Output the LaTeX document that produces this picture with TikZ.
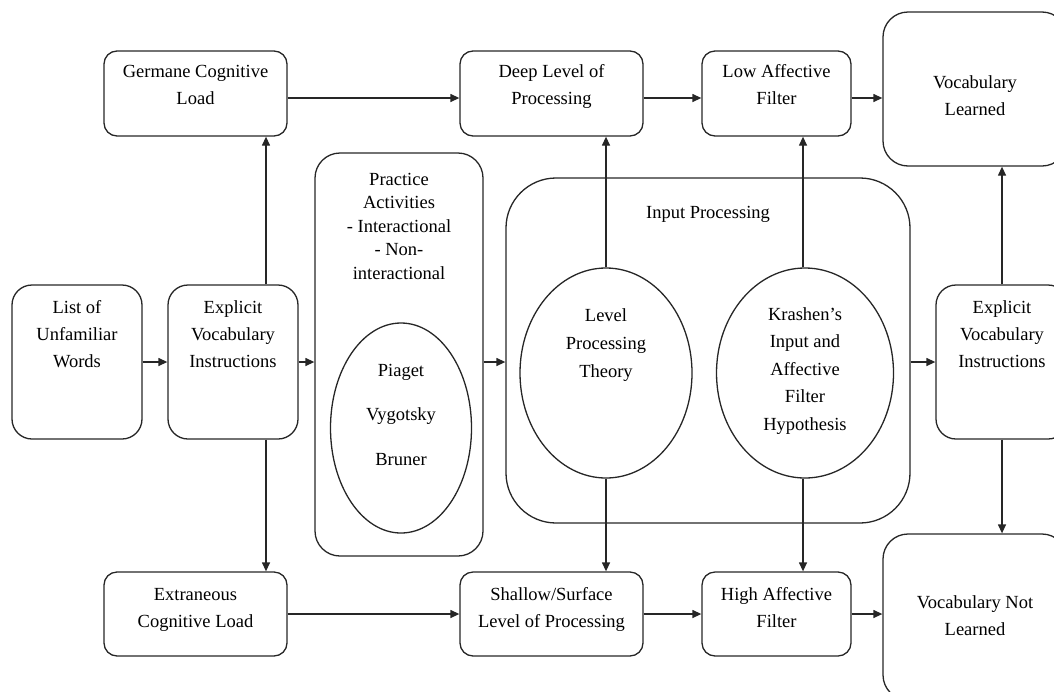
\documentclass[tikz,border=0pt]{standalone}
\usepackage{fontspec}
\setmainfont{Liberation Serif}
\usetikzlibrary{arrows.meta}
\usetikzlibrary{shapes.geometric}

\begin{document}
\begin{tikzpicture}[
      x=1pt, y=-1pt,
      every node/.style={font=\fontsize{18.5}{27}\selectfont, align=center, inner sep=0pt},
      box/.style={draw=black!85, line width=1.3pt, rounded corners=#1},
      box/.default=13pt,
      oval/.style={draw=black!85, line width=1.3pt, ellipse},
      arr/.style={draw=black!85, line width=1.3pt, -{Triangle[length=9pt,width=8pt]}},
    ]
        \useasboundingbox (0,0) rectangle (1054,691);
        \clip (0,0) rectangle (1054,691);

        \node[box, minimum width=183pt, minimum height=85pt, text height=40pt, text depth=19pt] (germane) at (195.5,93.5) {Germane Cognitive\\Load};
        \node[box, minimum width=183pt, minimum height=85pt, text height=40pt, text depth=19pt] (deep) at (551.5,93.5) {Deep Level of\\Processing};
        \node[box, minimum width=149pt, minimum height=85pt, text height=40pt, text depth=19pt] (low) at (776.5,93.5) {Low Affective\\Filter};
        \node[box=25pt, minimum width=184pt, minimum height=154pt, text height=52pt, text depth=0pt] (learned) at (975,89) {Vocabulary\\Learned};

        \node[box=20pt, minimum width=130pt, minimum height=154pt, text height=67pt, text depth=57pt] (list) at (77,362) {List of\\Unfamiliar\\Words};
        \node[box=20pt, minimum width=130pt, minimum height=154pt, text height=67pt, text depth=57pt] (explL) at (233,362) {Explicit\\Vocabulary\\Instructions};
        \node[box=25pt, minimum width=168pt, minimum height=403pt, text height=107pt, text depth=258pt, font=\fontsize{18.5}{23.5}\selectfont] (practice) at (399,354.5) {Practice\\Activities\\- Interactional\\- Non-\\interactional};
        \node[oval, minimum width=141pt, minimum height=210pt, text height=102pt, text depth=28pt, font=\fontsize{18.5}{44.5}\selectfont] (piaget) at (401,428) {Piaget\\Vygotsky\\Bruner};

        \node[box=50pt, minimum width=404pt, minimum height=345pt, text height=13pt, text depth=278pt] (input) at (708,350.5) {Input Processing};
        \node[oval, minimum width=172pt, minimum height=210pt, text height=69pt, text depth=61pt, font=\fontsize{18.5}{28}\selectfont] (level) at (606,373) {Level\\Processing\\Theory};
        \node[oval, minimum width=177pt, minimum height=210pt, text height=123pt, text depth=9pt, font=\fontsize{18.5}{27.5}\selectfont] (krashen) at (805,373) {Krashen’s\\Input and\\Affective\\Filter\\Hypothesis};
        \node[box=20pt, minimum width=132pt, minimum height=154pt, text height=67pt, text depth=57pt] (explR) at (1002,362) {Explicit\\Vocabulary\\Instructions};

        \node[box, minimum width=183pt, minimum height=84pt, text height=40pt, text depth=14pt] (extraneous) at (195.5,614) {Extraneous\\Cognitive Load};
        \node[box, minimum width=183pt, minimum height=84pt, text height=40pt, text depth=14pt] (shallow) at (551.5,614) {Shallow/Surface\\Level of Processing};
        \node[box, minimum width=149pt, minimum height=84pt, text height=40pt, text depth=14pt] (high) at (776.5,614) {High Affective\\Filter};
        \node[box=25pt, minimum width=184pt, minimum height=166pt, text height=40pt, text depth=4pt] (notlearned) at (975,617) {Vocabulary Not\\Learned};

        \draw[arr] (list) -- (explL);
        \draw[arr] (explL.east) -- (explL.east -| practice.west);
        \draw[arr] (explL.east -| practice.east) -- (explL.east -| input.west);
        \draw[arr] (explL.east -| input.east) -- (explR.west);

        \draw[arr] ([xshift=33pt]explL.north) -- ([xshift=33pt]explL.north |- germane.south);
        \draw[arr] ([xshift=33pt]explL.south) -- ([xshift=33pt]explL.south |- extraneous.north);

        \draw[arr] ([yshift=-4.5pt]germane.east) -- ([yshift=-4.5pt]germane.east -| deep.west);
        \draw[arr] ([yshift=-4.5pt]deep.east) -- ([yshift=-4.5pt]deep.east -| low.west);
        \draw[arr] ([yshift=-4.5pt]low.east) -- ([yshift=-4.5pt]low.east -| learned.west);

        \draw[arr] (extraneous) -- (shallow);
        \draw[arr] (shallow) -- (high);
        \draw[arr] (high.east) -- (high.east -| notlearned.west);

        \draw[arr] (level.north) -- (level.north |- deep.south);
        \draw[arr] (level.south) -- (level.south |- shallow.north);
        \draw[arr] ([xshift=-2pt]krashen.north) -- ([xshift=-2pt]krashen.north |- low.south);
        \draw[arr] ([xshift=-2pt]krashen.south) -- ([xshift=-2pt]krashen.south |- high.north);

        \draw[arr] (explR.north) -- (explR.north |- learned.south);
        \draw[arr] (explR.south) -- (explR.south |- notlearned.north);
    \end{tikzpicture}
\end{document}
